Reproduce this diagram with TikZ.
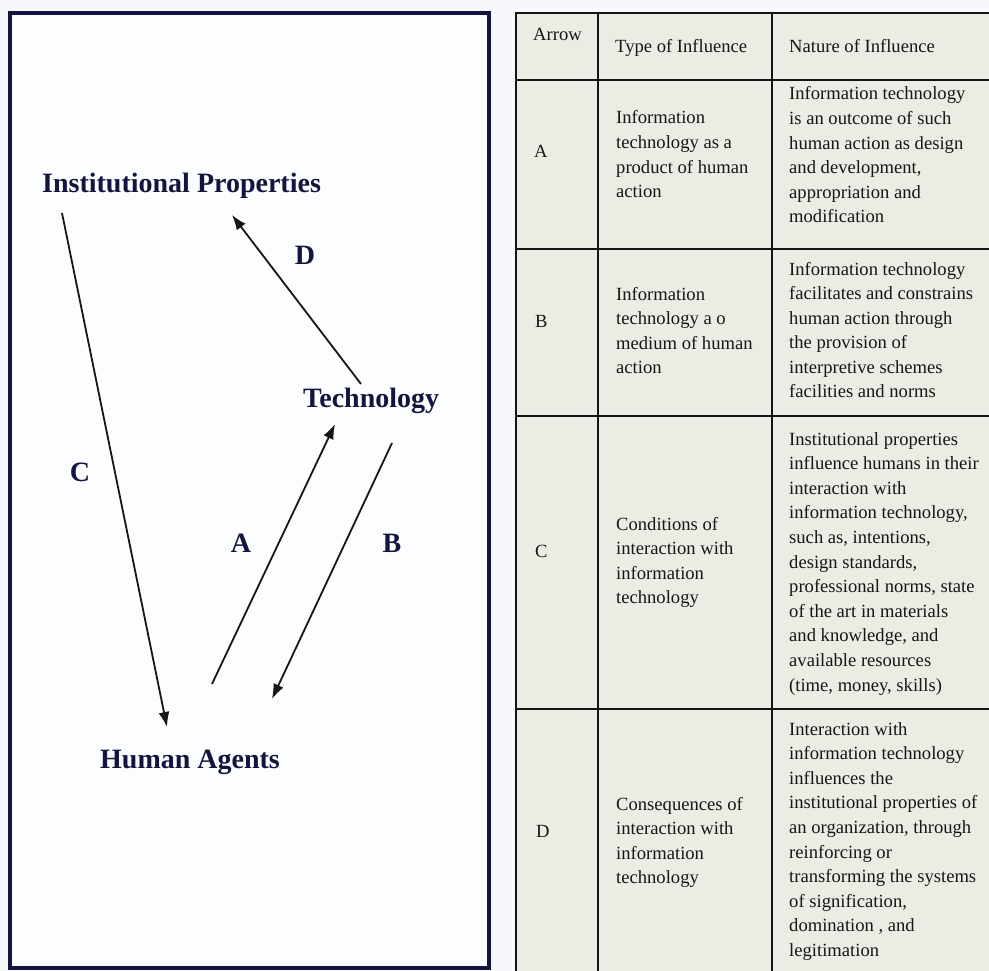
\documentclass[tikz,border=0pt]{standalone}
\usepackage{fontspec}
\setmainfont{Liberation Serif}
\usetikzlibrary{arrows.meta}

\definecolor{pagebg}{HTML}{F6F8FB}
\definecolor{panelbg}{HTML}{FCFDFE}
\definecolor{navy}{HTML}{14143F}
\definecolor{tablebg}{HTML}{ECECE5}
\definecolor{ink}{HTML}{161616}

% a stack of lines whose baseline is the baseline of the first line
\newcommand\cellstack[2]{\vtop{\hsize=#1\raggedright\parindent=0pt\noindent #2}}

\tikzset{
  biglabel/.style={font=\fontsize{28}{30}\selectfont\bfseries, text=navy, inner sep=0pt},
  celltext/.style={font=\fontsize{18.6}{24.6}\selectfont, text=ink, inner sep=0pt, anchor=base west},
  flow/.style={line width=1.8pt, draw=ink, -{Latex[length=15pt,width=11pt]}},
  rule/.style={line width=2.4pt, draw=black!92},
}

\begin{document}
\begin{tikzpicture}[x=1pt,y=-1pt]
\useasboundingbox (0,0) rectangle (989,971);
\fill[pagebg] (0,0) rectangle (989,971);

% ---------------- left panel: structuration model ----------------
\draw[line width=4pt, draw=navy, fill=panelbg] (10,13) rectangle (488.5,968);

\node[biglabel, anchor=base west] (inst) at (42,193) {Institutional Properties};
\node[biglabel, anchor=base west] (tech) at (303,407) {Technology};
\node[biglabel, anchor=base west] (human) at (100,768) {Human Agents};

\node[biglabel, anchor=base] (lblD) at (305,265) {D};
\node[biglabel, anchor=base] (lblC) at (80,481) {C};
\node[biglabel, anchor=base] (lblA) at (241,552) {A};
\node[biglabel, anchor=base] (lblB) at (392,552) {B};

% arrow end points
\coordinate (cFrom) at (62,213);
\coordinate (cTo)   at (167,727);
\coordinate (dFrom) at (361,384);
\coordinate (dTo)   at (232,215);
\coordinate (aFrom) at (212,684);
\coordinate (aTo)   at (335,424);
\coordinate (bFrom) at (392,443);
\coordinate (bTo)   at (272,699);

\draw[flow] (cFrom) -- (cTo);
\draw[flow] (dFrom) -- (dTo);
\draw[flow] (aFrom) -- (aTo);
\draw[flow] (bFrom) -- (bTo);

% ---------------- right panel: table of influences ----------------
\fill[tablebg] (516,13) rectangle (989,971);
\draw[rule] (989,13) -- (516,13) -- (516,971);
\draw[rule] (598,13) -- (598,971);
\draw[rule] (772,13) -- (772,971);
\foreach \yy in {80,249,416,709} \draw[rule] (516,\yy) -- (989,\yy);

% header
\node[celltext] (hArrow)  at (533,41) {Arrow};
\node[celltext] (hType)   at (615,53) {Type of Influence};
\node[celltext] (hNature) at (789,53) {Nature of Influence};

% row A
\node[celltext] (kA) at (534,158) {A};
\node[celltext] (tA) at (616,124) {\cellstack{150pt}{Information\\technology as a\\product of human\\action}};
\node[celltext] (nA) at (789,100) {\cellstack{200pt}{Information technology\\is an outcome of such\\human action as design\\and development,\\appropriation and\\modification}};

% row B
\node[celltext] (kB) at (535,327) {B};
\node[celltext] (tB) at (616,300) {\cellstack{150pt}{Information\\technology a o\\medium of human\\action}};
\node[celltext] (nB) at (789,275) {\cellstack{200pt}{Information technology\\facilitates and constrains\\human action through\\the provision of\\interpretive schemes\\facilities and norms}};

% row C
\node[celltext] (kC) at (535,557) {C};
\node[celltext] (tC) at (616,530) {\cellstack{150pt}{Conditions of\\interaction with\\information\\technology}};
\node[celltext] (nC) at (789,445) {\cellstack{200pt}{Institutional properties\\influence humans in their\\interaction with\\information technology,\\such as, intentions,\\design standards,\\professional norms, state\\of the art in materials\\and knowledge, and\\available resources\\(time, money, skills)}};

% row D
\node[celltext] (kD) at (536,837) {D};
\node[celltext] (tD) at (616,810) {\cellstack{150pt}{Consequences of\\interaction with\\information\\technology}};
\node[celltext] (nD) at (789,735) {\cellstack{200pt}{Interaction with\\information technology\\influences the\\institutional properties of\\an organization, through\\reinforcing or\\transforming the systems\\of signification,\\domination , and\\legitimation}};
\end{tikzpicture}
\end{document}
